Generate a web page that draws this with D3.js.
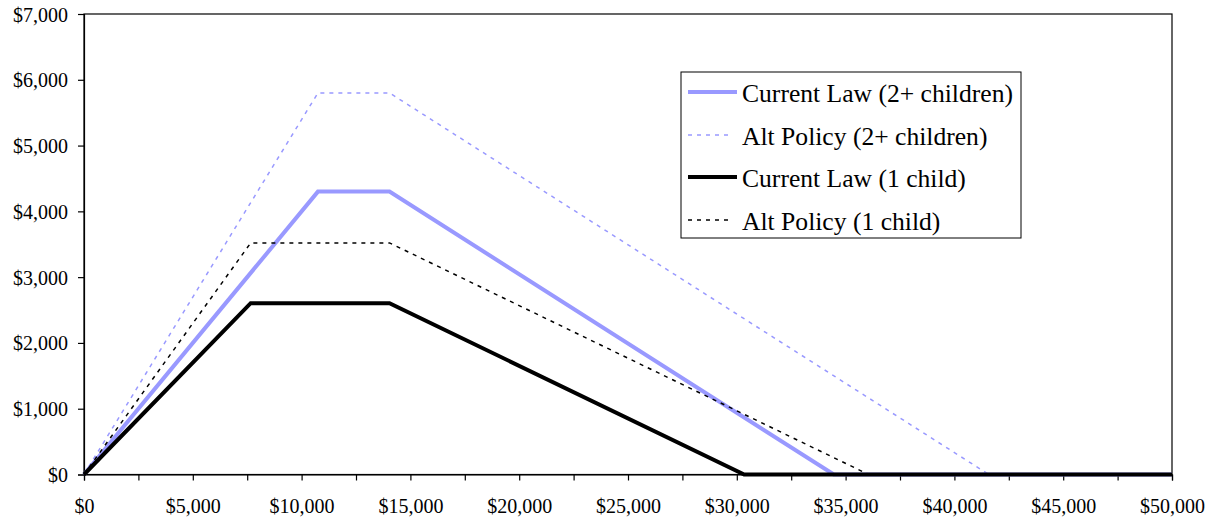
<!DOCTYPE html>
<html>
<head>
<meta charset="utf-8">
<script src="https://cdn.jsdelivr.net/npm/d3@7"></script>
<style>
  html, body { margin: 0; padding: 0; background: #fff; }
  svg { display: block; }
  text { font-family: "Liberation Serif", "Times New Roman", serif; fill: #000; }
</style>
</head>
<body>
<svg id="chart" width="1215" height="523"></svg>
<script>
// ---- Data ----
const xTickValues = [0, 2500, 5000, 7500, 10000, 12500, 15000, 17500, 20000, 22500, 25000, 27500, 30000, 32500, 35000, 37500, 40000, 42500, 45000, 47500, 50000];
const xLabelValues = [0, 5000, 10000, 15000, 20000, 25000, 30000, 35000, 40000, 45000, 50000];
const yTickValues = [0, 1000, 2000, 3000, 4000, 5000, 6000, 7000];

const seriesNames = ["Current Law (2+ children)", "Alt Policy (2+ children)", "Current Law (1 child)", "Alt Policy (1 child)"];

const currentTwoIncome = [0, 10750, 14040, 34458, 50000];
const currentTwoCredit = [0, 4300, 4300, 0, 0];

const altTwoIncome = [0, 10750, 14040, 41580, 50000];
const altTwoCredit = [0, 5800, 5800, 0, 0];

const currentOneIncome = [0, 7660, 14040, 30338, 50000];
const currentOneCredit = [0, 2604, 2604, 0, 0];

const altOneIncome = [0, 7660, 14040, 36060, 50000];
const altOneCredit = [0, 3520, 3520, 0, 0];

// ---- Layout ----
const svg = d3.select("#chart");
const mLeft = 84, mRight = 1172, mTop = 14, mBottom = 474.5;

const x = d3.scaleLinear().domain([0, 50000]).range([mLeft, mRight]);
const y = d3.scaleLinear().domain([0, 7000]).range([mBottom, mTop]);
const fmt = v => "$" + d3.format(",")(v);

const styles = [
  { color: "#9999FF", width: 4, dash: null },
  { color: "#9999FF", width: 1.5, dash: "4,5" },
  { color: "#000000", width: 4, dash: null },
  { color: "#000000", width: 1.5, dash: "4,5" }
];

const series = [
  { name: seriesNames[0], xs: currentTwoIncome, ys: currentTwoCredit },
  { name: seriesNames[1], xs: altTwoIncome, ys: altTwoCredit },
  { name: seriesNames[2], xs: currentOneIncome, ys: currentOneCredit },
  { name: seriesNames[3], xs: altOneIncome, ys: altOneCredit }
];

// plot frame
svg.append("rect")
  .attr("x", mLeft).attr("y", mTop)
  .attr("width", mRight - mLeft).attr("height", mBottom - mTop)
  .attr("fill", "none").attr("stroke", "#000").attr("stroke-width", 1.2);

// y axis
const yAxis = d3.axisLeft(y).tickValues(yTickValues).tickFormat(fmt).tickSize(6).tickPadding(10);
const gy = svg.append("g").attr("transform", `translate(${mLeft},0)`).call(yAxis);
gy.select(".domain").attr("stroke", "#000").attr("stroke-width", 1.2);
gy.selectAll(".tick line").attr("stroke", "#000").attr("stroke-width", 1.2);
gy.selectAll(".tick text").style("font-size", "20px").style("font-family", "'Liberation Serif', 'Times New Roman', serif").attr("dy", "0.35em");

// x axis
const xAxis = d3.axisBottom(x).tickValues(xTickValues)
  .tickFormat(v => xLabelValues.includes(v) ? fmt(v) : "")
  .tickSize(6).tickPadding(18);
const gx = svg.append("g").attr("transform", `translate(0,${mBottom})`).call(xAxis);
gx.select(".domain").attr("stroke", "#000").attr("stroke-width", 1.2);
gx.selectAll(".tick line").attr("stroke", "#000").attr("stroke-width", 1.2);
gx.selectAll(".tick text").style("font-size", "20px").style("font-family", "'Liberation Serif', 'Times New Roman', serif");

// lines
const line = d3.line().x(d => x(d[0])).y(d => y(d[1]));
series.forEach((s, i) => {
  const pts = s.xs.map((v, j) => [v, s.ys[j]]);
  svg.append("path")
    .datum(pts)
    .attr("d", line)
    .attr("fill", "none")
    .attr("stroke", styles[i].color)
    .attr("stroke-width", styles[i].width)
    .attr("stroke-dasharray", styles[i].dash)
    .attr("stroke-linejoin", "miter");
});

// legend
const lg = svg.append("g");
lg.append("rect")
  .attr("x", 681).attr("y", 72).attr("width", 340).attr("height", 166)
  .attr("fill", "#fff").attr("stroke", "#000").attr("stroke-width", 1);
const rowY = [92, 135, 177, 220];
series.forEach((s, i) => {
  const yy = rowY[i];
  lg.append("line")
    .attr("x1", 688).attr("x2", styles[i].dash ? 731 : 737)
    .attr("y1", yy).attr("y2", yy)
    .attr("stroke", styles[i].color)
    .attr("stroke-width", styles[i].width)
    .attr("stroke-dasharray", styles[i].dash);
  lg.append("text")
    .attr("x", 742).attr("y", yy + 10)
    .style("font-size", "25.6px")
    .text(s.name);
});
</script>
</body>
</html>
